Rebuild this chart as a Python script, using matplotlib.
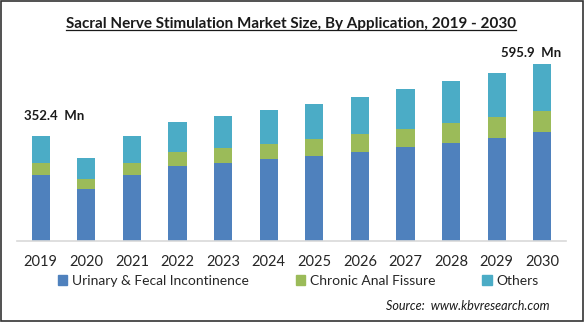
import matplotlib.pyplot as plt
import numpy as np
from matplotlib.patches import Rectangle, Patch
from matplotlib.lines import Line2D

years = ['2019', '2020', '2021', '2022', '2023', '2024', '2025', '2026', '2027', '2028', '2029', '2030']
urinary = [220.5, 174.0, 221.0, 251.4, 261.5, 275.0, 285.0, 298.5, 315.3, 328.8, 345.6, 366.6]
fissure = [40.3, 33.7, 40.5, 47.1, 50.5, 50.5, 57.2, 60.6, 60.6, 67.3, 70.7, 70.8]
others = [91.6, 70.7, 92.0, 101.0, 107.7, 114.4, 117.8, 124.5, 134.6, 141.3, 148.0, 158.5]
series_names = ['Urinary & Fecal Incontinence', 'Chronic Anal Fissure', 'Others']
colors = ['#4F81BD', '#9BBB59', '#4BACC6']
first_label = '352.4  Mn'
last_label = '595.9  Mn'

plt.rcParams['font.family'] = ['Lato', 'DejaVu Sans']

W, H = 584, 322
fig = plt.figure(figsize=(W / 100, H / 100), dpi=100)

# axes placed in pixel terms: left 17, right 566, bottom 240.7, top 50
ax = fig.add_axes([17 / W, (H - 240.7) / H, (566 - 17) / W, (240.7 - 50) / H])
x = np.arange(len(years))
u = np.array(urinary)
f = np.array(fissure)
o = np.array(others)
ax.bar(x, u, width=0.4, color=colors[0])
ax.bar(x, f, width=0.4, bottom=u, color=colors[1])
ax.bar(x, o, width=0.4, bottom=u + f, color=colors[2])
ax.set_xlim(-0.52, 11.52)
ax.set_ylim(0, 190.7 * 3.365)
for s in ['top', 'right', 'left']:
    ax.spines[s].set_visible(False)
ax.spines['bottom'].set_color('#D9D9D9')
ax.spines['bottom'].set_linewidth(1.2)
ax.set_yticks([])
ax.set_xticks(x)
ax.set_xticklabels(years, fontsize=10.5, color='#262626')
ax.tick_params(axis='x', length=0, pad=10)

totals = u + f + o
ax.text(-0.37, totals[0] + 68, first_label, fontsize=9.5, fontweight='bold', ha='left', va='center', color='#1a1a1a')
ax.text(10.75, totals[-1] + 37, last_label, fontsize=9.5, fontweight='bold', ha='center', va='center', color='#1a1a1a')

handles = [Patch(color=c) for c in colors]
fig.legend(handles, series_names, loc='center', bbox_to_anchor=(298 / W, 1 - 281 / H), ncol=3,
           frameon=False, fontsize=10, handlelength=0.7, handleheight=0.7, handletextpad=0.3,
           columnspacing=3.4, labelcolor='#262626')

title = fig.text(291 / W, 1 - 24 / H, 'Sacral Nerve Stimulation Market Size, By Application, 2019 - 2030',
                 ha='center', va='center', fontsize=11, fontweight='bold', color='#1a1a1a')
fig.text(550 / W, 1 - 306 / H, 'Source:  www.kbvresearch.com', ha='right', va='center',
         fontsize=9.1, style='italic', color='#1a1a1a')

# underline the title
fig.canvas.draw()
bb = title.get_window_extent().transformed(fig.transFigure.inverted())
fig.add_artist(Line2D([bb.x0, bb.x1], [bb.y0 + 0.004, bb.y0 + 0.004], transform=fig.transFigure,
                      color='#1a1a1a', linewidth=0.9))

# thin border around the picture
fig.add_artist(Rectangle((0.001, 0.002), 0.997, 0.995, transform=fig.transFigure, fill=False,
                         edgecolor='#333333', linewidth=1.2))

fig.savefig('out.png', dpi=100)
